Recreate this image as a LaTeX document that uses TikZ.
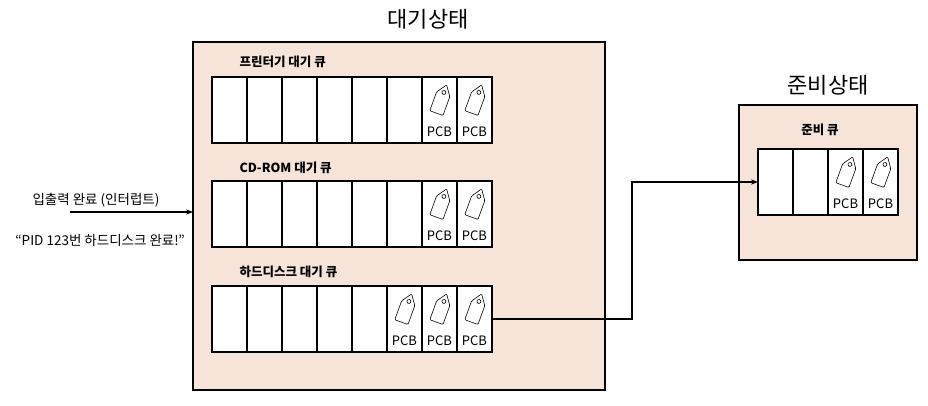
\documentclass[tikz,border=0pt]{standalone}
\usepackage{fontspec}
\setmainfont{Noto Sans CJK KR}
\usetikzlibrary{arrows.meta,positioning,calc}
\definecolor{peach}{RGB}{246,228,216}

\begin{document}
\begin{tikzpicture}[
        x=1pt, y=-1pt,
        state box/.style={draw, line width=1.6pt, fill=peach},
        cell/.style={draw, line width=1.6pt, fill=white, minimum width=35pt, minimum height=66pt, inner sep=0pt, outer sep=0pt},
        title/.style={font=\fontsize{22}{24}\selectfont},
        qlabel/.style={font=\fontsize{12.5}{14}\selectfont\bfseries},
        pcb/.style={font=\fontsize{13}{15}\selectfont},
        side/.style={font=\fontsize{13.5}{16}\selectfont},
        link/.style={line width=1.6pt, -{Stealth[length=7pt]}},
        tag/.pic={
            \draw[rotate=-20, line width=0.6pt, rounded corners=1pt] (-7,15) -- (7,15) -- (7,-5) -- (0,-15) -- (-7,-5) -- cycle;
            \draw[rotate=-20, line width=0.6pt] (0,-7) circle (2);
        }
    ]
    \useasboundingbox (0,0) rectangle (928,406);

    % waiting state
    \draw[state box] (193,42) rectangle (605,390);
    \node[title] (waitT) at (428,19) {대기상태};

    % queues in the waiting state
    \node[qlabel, anchor=west] (q1T) at (236,62) {프린터기 대기 큐};
    \node[qlabel, anchor=west] (q2T) at (236,168) {CD-ROM 대기 큐};
    \node[qlabel, anchor=west] (q3T) at (236,272) {하드디스크 대기 큐};
    \foreach \q/\y/\n in {1/110/6, 2/214/6, 3/319/5} {
        \foreach \i in {0,...,7} {
            \node[cell] (q\q c\i) at (229.5+35*\i,\y) {};
        }
        \foreach \i in {\n,...,7} {
            \pic at ($(q\q c\i)+(2,-11)$) {tag};
            \node[pcb] at ($(q\q c\i)+(0,22)$) {PCB};
        }
    }

    % ready state
    \draw[state box] (739,105) rectangle (917,260);
    \node[title] (readyT) at (828,85) {준비상태};
    \node[qlabel] (rqT) at (820,130) {준비 큐};
    \foreach \i in {0,...,3} {
        \node[cell] (rc\i) at (775.5+35*\i,182) {};
    }
    \foreach \i in {2,3} {
        \pic at ($(rc\i)+(2,-11)$) {tag};
        \node[pcb] at ($(rc\i)+(0,22)$) {PCB};
    }

    % interrupt
    \coordinate (irq) at (70,212);
    \draw[link] (irq) -- (193,212);
    \node[side] (irqT) at (96,200) {입출력 완료 (인터럽트)};
    \node[side] (pidT) at (100,240) {“PID 123번 하드디스크 완료!”};

    % move to ready queue
    \draw[link] (q3c7.east) -- (632,319) |- (rc0.west);
\end{tikzpicture}
\end{document}
